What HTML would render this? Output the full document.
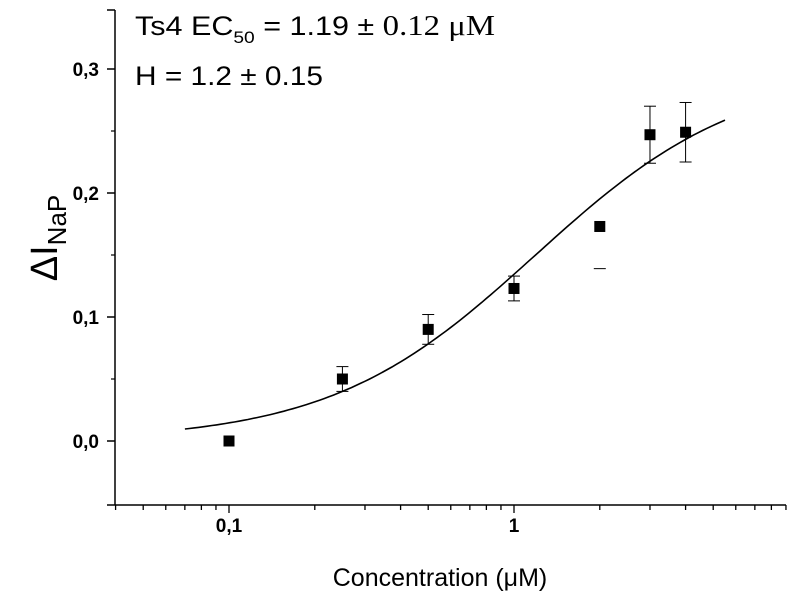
<!DOCTYPE html>
<html><head><meta charset="utf-8">
<style>
body{margin:0;background:#fff;}
svg{display:block;font-family:"Liberation Sans",sans-serif;}
</style></head>
<body>
<svg id="chart" width="791" height="597" viewBox="0 0 791 597">
<g id="axes"></g>
<g id="marks"></g>
<text x="135" y="35" font-size="27" textLength="360" lengthAdjust="spacingAndGlyphs">Ts4 EC<tspan font-size="17" dy="8">50</tspan><tspan dy="-8"> = 1.19 ± </tspan><tspan font-family="Liberation Serif" font-size="29">0.12 μM</tspan></text>
<text x="135" y="85" font-size="27" textLength="188" lengthAdjust="spacingAndGlyphs">H = 1.2 ± 0.15</text>
<text x="440" y="586" font-size="25" text-anchor="middle">Concentration (μM)</text>
<text transform="translate(57,238) rotate(-90)" font-size="38" text-anchor="middle">ΔI<tspan font-size="26" dy="9">NaP</tspan></text>
</svg>
<script>
const conc=[0.1,0.25,0.5,1,2,3,4];
const resp=[0.0,0.05,0.09,0.123,0.173,0.247,0.249];
const errLo=[0,0.01,0.012,0.01,0.034,0.023,0.024];
const errHi=[0,0.01,0.012,0.01,0,0.023,0.024];
const yTicks=[0,0.1,0.2,0.3];
const yTickLabels=["0,0","0,1","0,2","0,3"];
const xTicks=[0.1,1];
const xTickLabels=["0,1","1"];
const fitParams=[0,0.3,1.19,1.2]; // A1, A2, EC50, H
const fitRange=[0.07,5.5];
const NS="http://www.w3.org/2000/svg";
const X0=115,X1=786,Y0=505,Y1=10;
function xs(v){return 514+Math.log10(v)*285;}
function ys(v){return 441-v*1240;}
function mk(t,a,p){const e=document.createElementNS(NS,t);for(const k in a)e.setAttribute(k,a[k]);p.appendChild(e);return e;}
const ax=document.getElementById('axes'),mg=document.getElementById('marks');
let l=mk('line',{x1:X0,y1:Y1,x2:X0,y2:Y0,stroke:'#000','stroke-width':1.5},ax);


l=mk('line',{x1:107,y1:Y1,x2:X0,y2:Y1,stroke:'#000','stroke-width':1.5},ax);


l=mk('line',{x1:107,y1:Y0,x2:X1,y2:Y0,stroke:'#000','stroke-width':1.5},ax);


yTicks.forEach((v,i)=>{
  const t=mk('line',{x1:107,y1:ys(v),x2:X0,y2:ys(v),stroke:'#000','stroke-width':1.5},ax);
  
  
  const tx=mk('text',{x:99,y:ys(v)+7,'font-size':19,'font-weight':'bold','text-anchor':'end'},ax);
  tx.textContent=yTickLabels[i];
  
  
});
[0.05,0.15,0.25].forEach(v=>{
  const t=mk('line',{x1:111,y1:ys(v),x2:X0,y2:ys(v),stroke:'#000','stroke-width':1.2},ax);
  
  
});
for(let d=-2;d<=0;d++){for(let m=1;m<=9;m++){const v=m*Math.pow(10,d);const x=xs(v);if(x<X0-1||x>X1+1)continue;
  const major=(m===1);
  const t=mk('line',{x1:x,y1:Y0,x2:x,y2:Y0+(major?8:5),stroke:'#000','stroke-width':1.3},ax);
  
  
}}
xTicks.forEach((v,i)=>{
  const tx=mk('text',{x:xs(v),y:532,'font-size':19,'font-weight':'bold','text-anchor':'middle'},ax);
  tx.textContent=xTickLabels[i];
  
  
});
let d='';const N=120;
for(let i=0;i<=N;i++){const lv=Math.log10(fitRange[0])+(Math.log10(fitRange[1])-Math.log10(fitRange[0]))*i/N;const c=Math.pow(10,lv);
  const y=fitParams[0]+(fitParams[1]-fitParams[0])/(1+Math.pow(fitParams[2]/c,fitParams[3]));
  d+=(i?'L':'M')+xs(c).toFixed(1)+','+ys(y).toFixed(1);}
const p=mk('path',{d:d,fill:'none',stroke:'#000','stroke-width':1.6},mg);


conc.forEach((c,i)=>{
  const x=xs(c);
  const g=mk('g',{},mg);
  
  
  const both=errLo[i]>0&&errHi[i]>0;
  if(errHi[i]>0){const yt=ys(resp[i]+errHi[i]);if(both)mk('line',{x1:x,y1:yt,x2:x,y2:ys(resp[i]),stroke:'#000','stroke-width':1},g);mk('line',{x1:x-6,y1:yt,x2:x+6,y2:yt,stroke:'#000','stroke-width':1},g);}
  if(errLo[i]>0){const yb=ys(resp[i]-errLo[i]);if(both)mk('line',{x1:x,y1:yb,x2:x,y2:ys(resp[i]),stroke:'#000','stroke-width':1},g);mk('line',{x1:x-6,y1:yb,x2:x+6,y2:yb,stroke:'#000','stroke-width':1},g);}
  mk('rect',{x:x-5.5,y:ys(resp[i])-5.5,width:11,height:11,fill:'#000'},g);
});
</script>
</body></html>
